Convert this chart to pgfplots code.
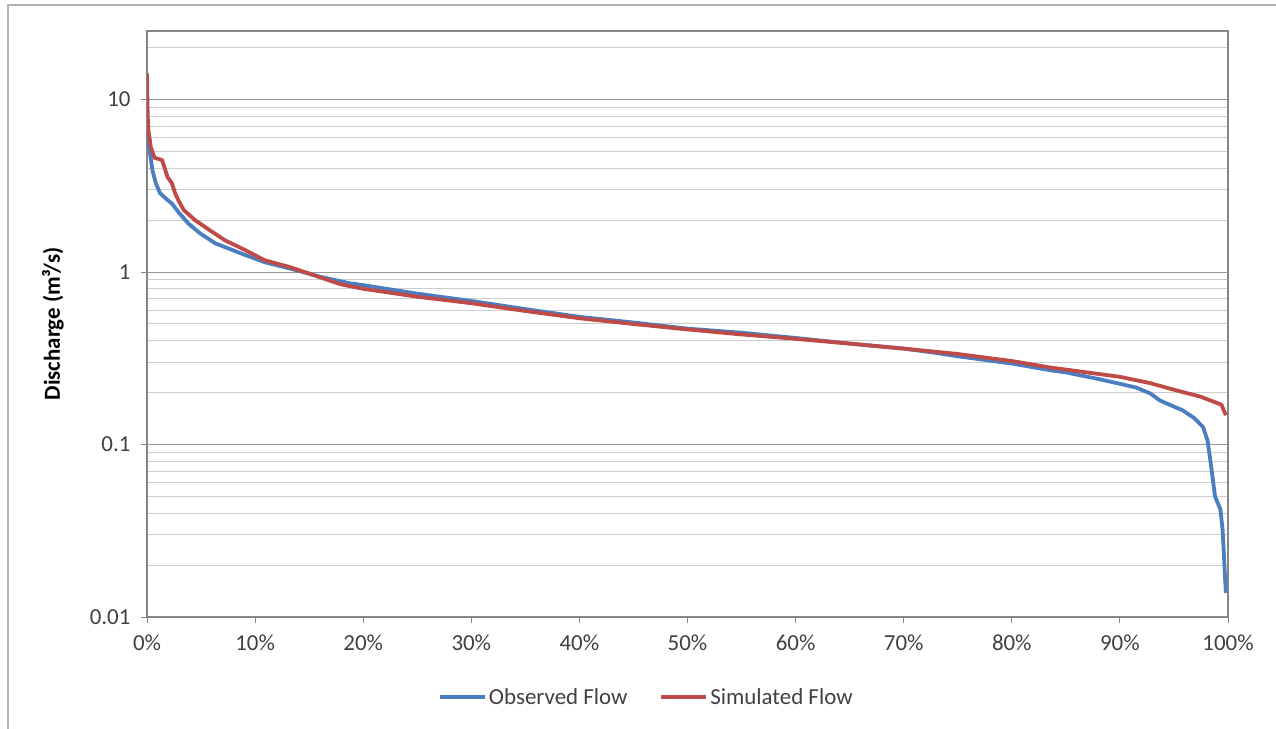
\documentclass[border=0pt]{standalone}
\usepackage{fontspec}
\setmainfont{Carlito}
\usepackage{pgfplots}
\pgfplotsset{compat=1.18}
\definecolor{obsblue}{RGB}{74,126,193}
\definecolor{simred}{RGB}{190,75,72}
\definecolor{gridmaj}{RGB}{150,150,150}
\definecolor{gridmin}{RGB}{205,205,205}
\definecolor{axgray}{RGB}{134,134,134}
\definecolor{txt}{RGB}{64,64,64}
\begin{document}
\begin{tikzpicture}
\useasboundingbox (0,0) rectangle (1276bp,729bp);
\draw[gray!60,line width=1.5bp] (8bp,0bp) -- (8bp,724bp) -- (1276bp,724bp);
\begin{axis}[
  scale only axis,
  width=1081bp, height=586bp,
  at={(147bp,112bp)}, anchor=south west,
  ymode=log,
  xmin=0, xmax=100, ymin=0.01, ymax=25,
  xtick={0,10,...,100},
  xticklabel={\pgfmathprintnumber{\tick}\%},
  ytick={0.01,0.1,1,10},
  yticklabels={0.01,0.1,1,10},
  minor ytick={0.02,0.03,0.04,0.05,0.06,0.07,0.08,0.09,0.2,0.3,0.4,0.5,0.6,0.7,0.8,0.9,2,3,4,5,6,7,8,9,20},
  ymajorgrids, yminorgrids,
  major grid style={gridmaj,line width=1bp},
  minor grid style={gridmin,line width=1bp},
  tick align=outside,
  major tick length=6bp,
  minor tick length=0bp,
  xtick pos=bottom, ytick pos=left,
  tick style={axgray,line width=1bp},
  axis line style={axgray,line width=1.2bp},
  /pgf/number format/assume math mode=true,
  ticklabel style={font=\fontsize{23}{26}\selectfont, text=txt},
  xticklabel style={yshift=-8bp},
  yticklabel style={xshift=-7bp},
  ylabel={\bfseries Discharge (m³/s)},
  ylabel style={font=\fontsize{23}{26}\selectfont, text=black, at={(axis description cs:-0.087,0.5)}, anchor=center},
  legend columns=2,
  legend style={draw=none, fill=none, font=\fontsize{23}{26}\selectfont, text=txt,
    at={(axis description cs:0.462,-0.137)}, anchor=center,
    nodes={inner xsep=2bp},
    /tikz/every even column/.append style={column sep=30bp}},
  legend image code/.code={\draw[#1] (0bp,0bp) -- (45bp,0bp);},
  every axis plot/.append style={line width=3.8bp, line join=round},
]
\addplot[obsblue] coordinates {
(0,6.6) (0.2,5.3) (0.5,3.9) (0.8,3.3) (1.2,2.87) (1.8,2.65) (2.3,2.5) (2.9,2.23)
(3.8,1.92) (4.9,1.68) (6.3,1.47) (8.6,1.29) (10.9,1.14) (13.2,1.05) (16,0.94)
(18.8,0.86) (20,0.84) (25,0.75) (30,0.68) (35,0.61) (40,0.55) (45,0.51) (50,0.47)
(55,0.445) (60,0.415) (65,0.385) (70,0.36) (73,0.34) (75,0.325) (80,0.295)
(83.5,0.27) (85,0.262) (88,0.24) (90,0.225) (91.5,0.214) (92.8,0.198) (93.7,0.18)
(95.8,0.158) (96.9,0.142) (97.7,0.126) (98.1,0.106) (98.4,0.078) (98.8,0.05)
(99.3,0.042) (99.5,0.032) (99.8,0.0138)
};
\addlegendentry{Observed Flow}
\addplot[simred] coordinates {
(0,14.2) (0.05,9) (0.1,6.9) (0.35,5.3) (0.7,4.6) (1.4,4.46) (1.9,3.55) (2.3,3.28)
(2.6,2.87) (2.9,2.61) (3.4,2.29) (4.45,2.0) (5.8,1.75) (7.2,1.53) (9.1,1.34)
(10.9,1.17) (13.2,1.07) (17.9,0.85) (20,0.80) (25,0.72) (30,0.66) (35,0.595)
(40,0.54) (45,0.50) (50,0.465) (55,0.435) (60,0.41) (65,0.385) (70,0.36)
(75,0.335) (80,0.305) (83.5,0.28) (85,0.272) (90,0.247) (92.8,0.227) (95.1,0.207)
(97.4,0.19) (98.8,0.176) (99.4,0.17) (99.8,0.148)
};
\addlegendentry{Simulated Flow}
\end{axis}
\end{tikzpicture}
\end{document}
